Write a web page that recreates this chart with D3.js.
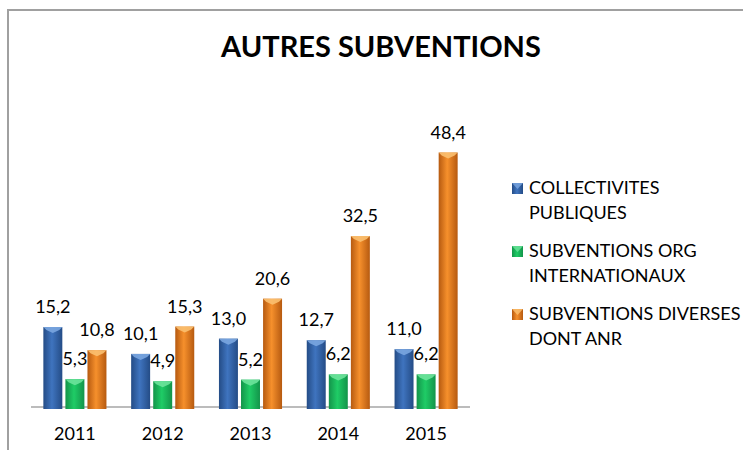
<!DOCTYPE html>
<html>
<head>
<meta charset="utf-8">
<script src="https://cdn.jsdelivr.net/npm/d3@7"></script>
<style>
  body { margin: 0; background: #fff; }
  svg { display: block; font-family: Lato, "Open Sans", sans-serif; }
</style>
</head>
<body>
<svg id="chart" width="743" height="450"></svg>
<script>
const years = ["2011", "2012", "2013", "2014", "2015"];
const seriesNames = ["COLLECTIVITES PUBLIQUES", "SUBVENTIONS ORG INTERNATIONAUX", "SUBVENTIONS DIVERSES DONT ANR"];
const legendLines = [["COLLECTIVITES", "PUBLIQUES"], ["SUBVENTIONS ORG", "INTERNATIONAUX"], ["SUBVENTIONS DIVERSES", "DONT ANR"]];
const collectivites = [15.2, 10.1, 13.0, 12.7, 11.0];
const orgInternationaux = [5.3, 4.9, 5.2, 6.2, 6.2];
const diversesAnr = [10.8, 15.3, 20.6, 32.5, 48.4];
const allSeries = [collectivites, orgInternationaux, diversesAnr];

// colours: edge, middle, top bevel
const palette = [
  { edge: "#244c86", mid: "#3f74bf", top: "#7aa6e0" },
  { edge: "#13944a", mid: "#1fcc66", top: "#6de39b" },
  { edge: "#b65a10", mid: "#f6902c", top: "#fbc070" }
];

const svg = d3.select("#chart");
const fmt = v => v.toFixed(1).replace(".", ",");

// chart frame (runs off the right and bottom edges)
svg.append("rect")
  .attr("x", 8).attr("y", 10)
  .attr("width", 800).attr("height", 500)
  .attr("fill", "#fff")
  .attr("stroke", "#a0a0a0")
  .attr("stroke-width", 2);

svg.append("text")
  .attr("x", 381).attr("y", 57)
  .attr("text-anchor", "middle")
  .attr("font-weight", "bold")
  .attr("font-size", 29)
  .attr("fill", "#000")
  .text("AUTRES SUBVENTIONS");

const baseY = 407;
const x0 = d3.scaleBand().domain(years).range([31, 470]);
const x1 = d3.scaleBand().domain(d3.range(3)).range([0, x0.bandwidth()])
  .paddingInner(0.14).paddingOuter(0.56);
const y = d3.scaleLinear().domain([0, 60]).range([baseY, baseY - 60 * 5.258]);

const defs = svg.append("defs");
palette.forEach((c, i) => {
  const g = defs.append("linearGradient").attr("id", "grad" + i)
    .attr("x1", "0%").attr("x2", "100%").attr("y1", "0%").attr("y2", "0%");
  g.append("stop").attr("offset", "0%").attr("stop-color", c.edge);
  g.append("stop").attr("offset", "45%").attr("stop-color", c.mid);
  g.append("stop").attr("offset", "100%").attr("stop-color", c.edge);
});

// axis line
svg.append("line")
  .attr("x1", x0.range()[0]).attr("x2", x0.range()[1])
  .attr("y1", baseY).attr("y2", baseY)
  .attr("stroke", "#a6a6a6").attr("stroke-width", 1.5);

const rows = [];
years.forEach((yr, i) => {
  allSeries.forEach((s, k) => rows.push({ year: yr, k: k, v: s[i] }));
});

const bars = svg.append("g").selectAll("g.bar").data(rows).enter()
  .append("g").attr("class", "bar");

bars.append("rect")
  .attr("x", d => x0(d.year) + x1(d.k))
  .attr("y", d => y(d.v))
  .attr("width", x1.bandwidth())
  .attr("height", d => y(0) - y(d.v) + 2)
  .attr("fill", d => "url(#grad" + d.k + ")");

// little bevel on the top of each bar
bars.append("path")
  .attr("d", d => {
    const l = x0(d.year) + x1(d.k), r = l + x1.bandwidth(), t = y(d.v);
    const m = (l + r) / 2, b = 3;
    return `M${l},${t} L${r},${t} L${r - b},${t + b} L${m},${t + 6} L${l + b},${t + b} Z`;
  })
  .attr("fill", d => palette[d.k].top)
  .attr("opacity", 0.9);

bars.append("text")
  .attr("x", d => x0(d.year) + x1(d.k) + x1.bandwidth() / 2)
  .attr("y", d => y(d.v) - 14)
  .attr("text-anchor", "middle")
  .attr("font-size", 18)
  .attr("fill", "#000")
  .text(d => fmt(d.v));

// category labels
svg.append("g").selectAll("text").data(years).enter()
  .append("text")
  .attr("x", d => x0(d) + x0.bandwidth() / 2)
  .attr("y", 440)
  .attr("text-anchor", "middle")
  .attr("font-size", 18)
  .attr("fill", "#000")
  .text(d => d);

// legend
const legend = svg.append("g").selectAll("g").data(seriesNames).enter()
  .append("g")
  .attr("transform", (d, i) => `translate(512,${194 + 63 * i})`);

legend.append("rect")
  .attr("x", 0).attr("y", -11)
  .attr("width", 11).attr("height", 11)
  .attr("fill", (d, i) => "url(#grad" + i + ")");

legend.append("path")
  .attr("d", "M0,-11 L11,-11 L5.5,-5 Z")
  .attr("fill", (d, i) => palette[i].top)
  .attr("opacity", 0.8);

legend.each(function (d, i) {
  d3.select(this).selectAll("text").data(legendLines[i]).enter()
    .append("text")
    .attr("x", 17)
    .attr("y", (t, j) => j * 24.5)
    .attr("font-size", 18)
    .attr("fill", "#000")
    .text(t => t);
});
</script>
</body>
</html>
